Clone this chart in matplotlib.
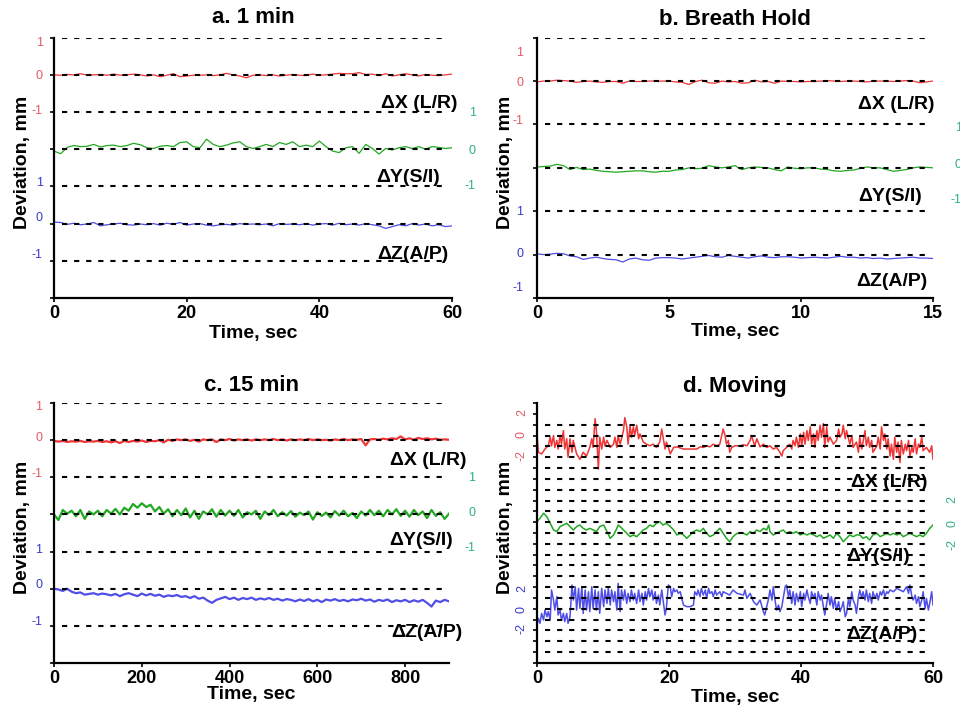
import numpy as np
import matplotlib
matplotlib.use('Agg')
import matplotlib.pyplot as plt
from matplotlib.transforms import blended_transform_factory

plt.rcParams['font.family'] = ['Liberation Sans', 'DejaVu Sans']

RED = '#f03535'
GREEN = '#22a822'
BLUE = '#4f4fe8'
RED_LBL = '#e25a66'
GREEN_LBL = '#2fb083'
BLUE_LBL = '#3a3ac8'

# ---- a. 1 min (1 s sampling), deviations in mm
a_red = [0.0, -0.01, 0.01, 0.0, 0.03, -0.01, 0.0, 0.01, -0.01, 0.02, -0.01, 0.0, 0.02, 0.0,
         -0.03, 0.0, -0.05, -0.01, 0.03, -0.05, -0.03, -0.01, -0.01, 0.0, -0.02, 0.0, 0.04,
         0.0, -0.03, -0.08, -0.01, 0.0, -0.02, 0.0, -0.03, -0.01, 0.01, -0.01, -0.02, 0.02,
         -0.01, 0.0, 0.02, 0.04, 0.03, 0.03, 0.06, 0.01, 0.02, -0.02, 0.03, -0.03, 0.0, 0.03,
         0.0, -0.03, 0.01, -0.01, -0.02, 0.0, 0.02]
a_green = [-0.05, -0.12, 0.05, 0.1, 0.07, 0.08, 0.13, 0.06, 0.1, 0.11, 0.07, 0.1, 0.16, 0.12,
           0.04, 0.02, 0.08, 0.1, 0.07, 0.18, 0.2, 0.07, 0.04, 0.27, 0.13, 0.07, 0.11, 0.17,
           0.2, 0.07, 0.02, 0.07, 0.13, 0.07, 0.18, 0.13, 0.2, 0.07, 0.11, 0.07, 0.22, 0.07,
           -0.05, -0.09, 0.04, 0.07, -0.11, 0.13, 0.02, -0.13, 0.02, -0.02, 0.04, 0.07, 0.02,
           0.07, 0.0, 0.07, 0.05, 0.02, 0.04]
a_blue = [0.04, 0.03, -0.02, 0.01, -0.03, -0.01, 0.03, -0.06, -0.03, -0.01, 0.01, -0.03, -0.04,
          -0.01, -0.03, 0.0, -0.04, 0.01, -0.02, 0.03, -0.04, -0.01, 0.0, -0.04, -0.06, -0.03,
          -0.02, -0.04, 0.0, -0.02, -0.01, -0.03, -0.01, -0.06, 0.0, -0.02, -0.01, -0.03, 0.0,
          -0.04, -0.01, 0.0, -0.04, 0.01, -0.03, -0.01, -0.04, 0.0, -0.03, -0.06, -0.13, -0.08,
          -0.03, -0.06, 0.0, -0.04, -0.01, -0.06, -0.03, -0.08, -0.06]

# ---- b. Breath Hold (0.25 s sampling)
b_red = [-0.02, 0.0, 0.0, 0.02, 0.01, 0.0, -0.03, -0.01, 0.0, -0.02, -0.03, -0.01, -0.01,
         -0.05, 0.0, -0.01, -0.01, 0.0, 0.0, 0.0, 0.0, -0.02, -0.03, -0.08, -0.01, 0.02, -0.04,
         -0.05, 0.0, -0.02, -0.01, -0.05, -0.04, 0.02, -0.02, -0.01, -0.05, 0.0, -0.01, -0.01,
         -0.02, -0.01, -0.01, 0.0, 0.01, 0.0, -0.01, 0.0, 0.0, -0.01, -0.02, 0.0, 0.0, 0.0,
         -0.01, 0.0, 0.01, 0.0, -0.04, -0.02, 0.0]
b_green = [0.02, 0.03, 0.04, 0.08, 0.05, -0.04, 0.01, -0.04, -0.03, -0.06, -0.08, -0.09, -0.1,
           -0.09, -0.08, -0.07, -0.07, -0.09, -0.1, -0.08, -0.08, -0.05, -0.04, 0.0, -0.02,
           -0.01, 0.05, 0.02, 0.0, 0.02, 0.05, -0.04, 0.0, 0.02, 0.01, 0.0, -0.04, -0.07, 0.02,
           -0.01, -0.02, 0.0, 0.0, -0.03, -0.04, -0.07, -0.08, -0.06, -0.05, -0.01, 0.02, 0.0,
           0.0, -0.04, -0.08, -0.06, -0.04, 0.0, 0.02, 0.01, 0.0]
b_blue = [0.02, 0.0, 0.01, 0.03, 0.02, -0.03, -0.05, -0.11, -0.08, -0.06, -0.09, -0.11, -0.12,
          -0.17, -0.1, -0.08, -0.12, -0.13, -0.08, -0.07, -0.07, -0.08, -0.1, -0.08, -0.06,
          -0.04, -0.02, -0.05, -0.06, -0.02, -0.04, -0.06, -0.08, -0.05, -0.03, -0.06, -0.07,
          -0.05, -0.05, -0.06, -0.08, -0.07, -0.06, -0.07, -0.08, -0.06, -0.04, -0.06, -0.06,
          -0.08, -0.07, -0.09, -0.08, -0.1, -0.09, -0.08, -0.07, -0.06, -0.08, -0.08, -0.09]

# ---- c. 15 min (10 s sampling)
c_red = [-0.02, -0.04, -0.02, -0.05, -0.03, -0.04, -0.02, -0.05, -0.03, -0.04, -0.02, -0.05,
         -0.03, -0.06, -0.03, -0.08, -0.02, -0.05, -0.02, -0.04, -0.01, -0.05, -0.02, -0.03,
         0.0, -0.06, 0.01, -0.02, 0.02, 0.0, 0.02, -0.02, 0.01, -0.04, 0.02, 0.0, 0.02, -0.05,
         0.02, 0.0, 0.03, -0.01, 0.02, 0.0, 0.02, -0.01, 0.02, 0.0, 0.02, 0.0, 0.03, 0.0, 0.02,
         -0.01, 0.02, 0.0, 0.02, 0.0, 0.03, 0.0, 0.02, 0.0, 0.01, -0.01, 0.02, 0.0, 0.03, 0.0,
         0.02, 0.01, 0.03, -0.14, 0.02, 0.03, 0.01, 0.04, 0.02, 0.05, 0.03, 0.1, 0.02, 0.05,
         0.01, 0.06, 0.03, 0.05, 0.02, 0.04, 0.01, 0.02, 0.01]
c_green = [0.0, -0.15, 0.12, 0.02, 0.1, -0.05, 0.12, -0.12, 0.08, 0.0, 0.1, -0.05, 0.12, 0.02,
           0.15, 0.0, 0.18, 0.1, 0.28, 0.18, 0.3, 0.2, 0.26, 0.08, 0.2, 0.02, 0.14, -0.05, 0.12,
           -0.02, 0.16, -0.08, 0.1, -0.12, 0.08, 0.0, 0.14, -0.06, 0.12, -0.03, 0.1, -0.04, 0.12,
           -0.08, 0.06, 0.0, 0.1, -0.12, 0.08, -0.02, 0.12, -0.05, 0.06, -0.03, 0.09, -0.06,
           0.05, -0.02, 0.08, -0.14, 0.06, -0.04, 0.05, -0.08, 0.09, -0.03, 0.1, -0.05, 0.04,
           -0.1, 0.08, -0.03, 0.12, -0.02, 0.1, -0.05, 0.12, 0.0, 0.14, -0.04, 0.1, -0.06, 0.12,
           -0.02, 0.08, -0.1, 0.12, -0.04, 0.06, -0.12, 0.02]
c_blue = [0.0, -0.02, -0.06, 0.0, -0.08, -0.12, -0.1, -0.16, -0.14, -0.12, -0.16, -0.13, -0.15,
          -0.18, -0.14, -0.2, -0.15, -0.12, -0.16, -0.2, -0.13, -0.18, -0.14, -0.19, -0.16,
          -0.22, -0.18, -0.2, -0.17, -0.22, -0.2, -0.25, -0.2, -0.27, -0.24, -0.32, -0.38, -0.3,
          -0.26, -0.22, -0.28, -0.24, -0.3, -0.25, -0.28, -0.24, -0.3, -0.26, -0.29, -0.25, -0.3,
          -0.27, -0.32, -0.28, -0.3, -0.34, -0.29, -0.33, -0.28, -0.34, -0.3, -0.36, -0.29,
          -0.32, -0.28, -0.33, -0.3, -0.34, -0.29, -0.31, -0.27, -0.32, -0.29, -0.35, -0.3,
          -0.33, -0.29, -0.36, -0.31, -0.34, -0.3, -0.36, -0.31, -0.35, -0.3, -0.38, -0.48,
          -0.32, -0.36, -0.3, -0.34]

# ---- d. Moving (irregular reading times, s)
d_red_t = [0, 0.2, 0.7, 1.2, 1.7, 2.0, 2.2, 2.5, 2.7, 3.0, 3.2, 3.5, 3.7, 4.0, 4.2, 4.5, 4.7,
           5.0, 5.3, 5.5, 6.0, 6.5, 7.0, 7.5, 8.0, 8.3, 8.5, 8.8, 9.0, 9.3, 9.5, 9.8, 10.1,
           10.3, 10.6, 11.1, 11.6, 11.8, 12.1, 12.3, 12.6, 13.1, 13.3, 13.6, 13.8, 14.1, 14.3,
           14.6, 14.8, 15.1, 15.4, 15.6, 16.1, 16.6, 17.1, 17.6, 18.1, 18.6, 18.9, 19.1, 19.4,
           19.6, 19.9, 20.2, 20.7, 21.2, 22.2, 23.2, 24.2, 24.7, 25.2, 25.7, 26.2, 26.7, 27.2,
           27.7, 28.2, 28.5, 28.7, 29.0, 29.2, 29.5, 30.0, 30.8,
           31.3, 31.8, 32.3, 32.5, 32.8, 33.0, 33.3, 33.8, 34.3, 34.8, 35.3, 35.8, 36.3, 36.8,
           37.1, 37.3, 37.8, 38.3, 38.6, 38.8, 39.1, 39.3, 39.6, 39.9, 40.1, 40.4, 40.6, 40.9,
           41.1, 41.4, 41.6, 41.9, 42.1, 42.4, 42.6, 42.9, 43.1, 43.4, 43.6, 43.9, 44.1, 44.4,
           44.9, 45.4, 45.7, 45.9, 46.2, 46.4, 46.7, 46.9, 47.4, 47.7, 47.9, 48.4, 48.7, 48.9,
           49.2, 49.4, 49.7, 49.9, 50.2, 50.4, 50.7, 50.9, 51.5, 51.7, 52.0, 52.2, 52.5, 52.7,
           53.0, 53.2, 53.5, 53.7, 54.0, 54.2, 54.5, 54.7, 55.0, 55.2, 55.5, 55.8, 56.0, 56.3,
           56.5, 56.8, 57.0, 57.3, 57.5, 57.8, 58.0, 58.3, 58.5, 59.0, 59.5, 59.8, 60.0]
d_red = [0.15, -1.55, -1.7, -1.25, -0.95, -0.15, -0.95, 0.0, -1.1, -0.45, -1.25, 0.0, -0.8,
         0.45, -1.25, -0.3, -2.0, -0.3, -1.55, -0.45, -1.7, -2.2, -1.55, -1.9, -1.1, -0.3,
         -1.1, 1.55, 0.45, -3.1, -0.15, -1.25, -0.15, -0.95, -0.45, -1.1, -0.8, -0.15, -1.1,
         0.0, -0.8, 0.45, 1.65, 0.8, -0.8, 0.95, -0.15, 0.8, 0.0, 0.95, -0.3, 0.15, -0.6, -0.8,
         -0.95, -0.8, -1.1, -0.6, 0.6, -0.15, -1.25, -0.6, -1.1, -1.7, -1.1, -1.05, -1.25,
         -1.25, -1.25, -1.05, -1.1, -0.95, -1.05, -0.8, -0.95, -0.8, 0.6, 0.0, -0.8, -0.45,
         -1.55, -1.1, -0.95, -0.95,
         -0.85, -0.95, -0.45, 0.0, -0.6, -0.95, -0.3, -1.05, -0.8, -1.1, -0.95, -1.25, -1.1,
         -1.55, -1.9, -1.4, -1.1, -0.8, -1.25, -0.45, -0.95, -0.15, -1.1, 0.15, -0.95, 0.3,
         -0.8, 0.45, -0.45, 0.8, -0.8, 0.15, -1.1, 0.45, -0.45, 0.95, -0.15, 1.1, -1.1, 0.8,
         -0.6, -0.15, -0.8, -0.45, 0.6, -0.15, 0.15, 0.95, -0.3, 0.45, -0.8, 0.0, -1.1, -0.6,
         -1.55, -0.15, -1.25, -0.6, 0.45, -0.95, -0.15, -1.1, -0.45, -1.55, -0.95, -0.15,
         -1.25, 0.8, -0.45, 0.15, -1.25, -0.3, -1.9, -0.8, -2.2, -0.15, -1.55, -0.6, -2.5,
         -0.45, -1.7, -0.8, -1.4, -0.45, -1.9, -1.1, -1.55, -0.3, -1.7, -0.8, -1.1, -0.15,
         -1.4, -1.1, -1.55, -0.95, -2.2]

d_green_t = [0, 0.45, 1.0, 1.5, 2.0, 2.5, 3.0, 3.5, 4.0, 4.5, 5.0, 5.5, 6.0, 6.5, 7.0, 7.5, 8.0,
             8.5, 9.0, 9.5, 10.1, 10.6, 11.1, 11.6, 12.1, 12.3, 12.6, 13.1, 13.6, 14.1, 14.6,
             15.1, 15.6, 16.1, 16.6, 17.1, 17.6, 18.1, 18.6, 19.1, 19.6, 20.2, 20.7, 21.2,
             21.7, 22.2, 22.7, 23.2, 23.7, 24.2, 24.7, 25.2, 25.7, 26.2, 26.7, 27.2, 27.7,
             28.2, 28.7, 29.2, 29.7, 30.3,
             31.3, 31.8, 32.3, 32.8, 33.3, 33.8, 34.3, 34.8, 35.1, 35.3, 35.8, 36.3, 36.8,
             37.3, 37.8, 38.3, 38.8, 39.3, 39.9, 40.4, 40.9, 41.4, 41.9, 42.4, 42.9, 43.4,
             43.9, 44.4, 44.9, 45.4, 45.9, 46.4, 46.9, 47.4, 47.9, 48.4, 48.9, 49.4, 49.9,
             50.4, 50.9, 51.5, 52.0, 52.5, 53.0, 53.5, 54.0, 54.5, 55.0, 55.5, 56.0, 56.5,
             57.0, 57.5, 58.0, 58.5, 59.0, 59.5, 60.0]
d_green = [0.05, 0.36, 0.82, 0.5, -0.1, -0.72, -0.87, -0.41, -0.26, -0.1, -0.41, -0.72, -0.41,
           -0.26, -0.57, -0.72, -0.57, -0.72, -0.87, -0.41, -0.26, -0.87, -1.49, -1.18, -0.57,
           -0.26, -0.41, -0.72, -1.03, -1.34, -1.18, -1.34, -1.03, -0.72, -0.57, -0.26, -0.41,
           -0.1, 0.05, -0.26, -0.1, -0.41, -0.72, -1.18, -1.03, -1.18, -1.49, -1.18, -0.87,
           -0.72, -0.87, -0.57, -1.03, -1.34, -1.18, -0.87, -0.57, -1.03, -1.49, -1.8, -1.34,
           -1.03,
           -1.03, -1.18, -0.87, -1.03, -0.72, -0.87, -0.57, -0.72, -0.26, -0.87, -1.18, -1.03,
           -0.87, -0.72, -1.03, -0.87, -1.03, -0.87, -1.18, -1.03, -1.18, -1.03, -1.18, -1.34,
           -1.18, -1.49, -1.34, -1.18, -1.49, -1.03, -1.34, -1.8, -1.49, -1.18, -1.34, -1.18,
           -1.18, -1.49, -1.34, -1.64, -1.18, -1.03, -1.34, -1.18, -1.03, -1.18, -1.03, -1.18,
           -1.03, -1.34, -1.18, -1.03, -1.18, -1.34, -1.18, -1.34, -1.03, -0.57, -0.26]

d_blue_t = [0.0, 0.2, 0.45, 0.7, 1.0, 1.2, 1.5, 1.7, 2.0, 2.2, 2.5, 2.7, 3.0, 3.2, 3.5, 3.7,
            4.0, 4.2, 4.5, 4.7, 5.0, 5.3, 5.5, 5.8, 6.0, 6.3, 6.5, 6.8, 7.0, 7.3, 7.5, 7.8,
            8.0, 8.3, 8.5, 8.8, 9.0, 9.3, 9.5, 9.8, 10.1, 10.3, 10.6, 10.8, 11.1, 11.3, 11.6,
            11.8, 12.1, 12.3, 12.6, 12.8, 13.1, 13.3, 13.6, 13.8, 14.1, 14.3, 14.6, 14.8,
            15.1, 15.4, 15.6, 15.9, 16.1, 16.4, 16.6, 16.9, 17.1, 17.4, 17.6, 17.9, 18.1,
            18.4, 18.6, 18.9, 19.1, 19.4, 19.6, 19.9, 20.2, 20.4, 20.7, 20.9, 21.2, 21.4,
            21.7, 22.0, 22.2, 22.7, 23.2, 23.7, 23.9, 24.2, 24.4, 24.7, 24.9, 25.2, 25.5,
            25.7, 26.0, 26.2, 26.5, 26.7, 27.0, 27.2, 27.7, 28.0, 28.2, 28.7, 29.2, 29.7, 30.3,
            31.3, 31.5, 31.8, 32.3, 32.8, 33.3, 33.8, 34.3, 34.5, 34.8, 35.1, 35.3, 35.6,
            35.8, 36.1, 36.3, 36.6, 36.8, 37.1, 37.3, 37.6, 37.8, 38.1, 38.3, 38.6, 38.8,
            39.1, 39.3, 39.6, 39.9, 40.1, 40.4, 40.6, 40.9, 41.1, 41.4, 41.6, 41.9, 42.1,
            42.4, 42.6, 42.9, 43.1, 43.4, 43.6, 43.9, 44.1, 44.4, 44.6, 44.9, 45.1, 45.4,
            45.7, 45.9, 46.2, 46.4, 46.7, 46.9, 47.2, 47.4, 47.7, 47.9, 48.2, 48.4, 48.7,
            48.9, 49.2, 49.4, 49.7, 49.9, 50.2, 50.4, 50.7, 50.9, 51.2, 51.5, 51.7, 52.0,
            52.2, 52.5, 52.7, 53.0, 53.2, 53.5, 54.0, 54.5, 55.0, 55.5, 56.0, 56.3, 56.5,
            56.8, 57.0, 57.3, 57.5, 57.8, 58.0, 58.3, 58.5, 58.8, 59.0, 59.3, 59.5, 59.8, 60.0]
d_blue = [-1.5, -0.88, -1.34, -0.42, -1.03, -0.11, -0.73, -0.26, -1.03, 1.74, 0.81, -0.11,
          1.12, -0.57, -0.11, -1.03, -0.42, -1.19, -0.42, -1.34, -0.73, 2.2, 0.81, 2.04,
          -0.11, 1.89, 0.04, 2.04, -0.42, 1.74, -0.11, 1.58, -0.26, 2.04, 0.04, 1.74, -0.11,
          1.58, -0.42, 1.89, 0.2, 1.74, 0.5, 1.89, 0.35, 1.74, 0.66, 1.58, -0.11, 2.35, -0.26,
          1.74, 0.81, 1.74, 0.5, 1.43, 0.66, 1.74, 0.81, 1.43, 0.5, 1.74, 0.66, 1.43, 0.35,
          1.58, 0.81, 1.89, 1.12, 1.74, 0.81, 1.58, 0.5, 1.27, 0.35, 1.74, 0.81, -0.57, 0.04,
          2.2, 2.04, 1.12, 1.89, 1.58, 1.74, 1.43, 1.58, 0.81, 0.35, 0.2, 0.2, 0.35, 1.58,
          1.27, 1.74, 1.12, 1.89, 1.27, 1.74, 0.97, 1.89, 1.43, 1.58, 1.12, 1.74, 1.27, 1.58,
          1.12, 1.58, 1.43, 1.27, 1.74, 1.43,
          1.27, 1.74, 0.97, 1.43, 0.66, 0.35, 0.81, -0.26, -0.57, 0.2, 0.97, 1.74, 0.81,
          2.04, 0.66, -0.11, 0.35, -0.26, 0.2, 0.97, 2.04, 2.2, 1.12, 1.74, 0.5, 1.58, 0.35,
          1.43, 0.66, 1.58, 0.2, 1.43, 0.81, 1.74, 1.12, 0.5, 1.58, 0.97, 1.43, 0.35, 1.58,
          0.81, 1.27, 0.2, -0.57, 0.5, 1.43, 0.35, 1.12, 0.04, 0.97, -0.11, 0.66, -0.26, 0.2,
          0.66, -0.73, -0.42, 0.97, 0.2, 1.58, 0.81, 0.35, -0.42, 1.12, 1.74, 0.97, 1.58,
          0.81, 1.74, 0.66, 1.43, 0.5, 1.58, 0.97, 1.43, 0.81, 1.58, 1.27, 1.74, 1.12, 1.58,
          1.43, 1.74, 1.58, 1.89, 1.74, 1.58, 2.04, 1.43, 2.2, 1.12, 0.81, 1.27, 0.5, 1.12,
          0.2, 0.81, 1.58, 0.04, 0.97, -0.11, 0.5, 1.58, 0.35]

fig = plt.figure(figsize=(9.6, 7.08), dpi=100)
fig.patch.set_facecolor('white')


def make_panel(rect, xmax, xticks, ytop, levels, title, title_y, xlabel_y):
    ax = fig.add_axes(rect)
    ax.set_xlim(0, xmax)
    ax.set_ylim(0, ytop)
    for side in ('top', 'right'):
        ax.spines[side].set_visible(False)
    for side in ('left', 'bottom'):
        ax.spines[side].set_linewidth(1.6)
    ax.set_xticks(xticks)
    ax.set_xticklabels([str(t) for t in xticks], fontsize=13, fontweight='bold')
    ax.set_yticks(np.arange(0, ytop + 1))
    ax.set_yticklabels([])
    ax.tick_params(axis='y', length=3, width=1.2)
    ax.tick_params(axis='x', length=3, width=1.2, pad=2)
    # dotted guide lines, one per unit
    for lvl in levels:
        ax.axhline(lvl, xmin=0.02, xmax=0.985, color='black', lw=1.5,
                   ls=(0, (2.5, 3.3)), zorder=3)
    ax.text(0.5, title_y, title, transform=ax.transAxes, ha='center', va='center',
            fontsize=16, fontweight='bold')
    ax.text(0.5, xlabel_y, 'Time, sec', transform=ax.transAxes, ha='center',
            va='center', fontsize=14, fontweight='bold')
    ax.text(-0.08, 0.52, 'Deviation, mm', transform=ax.transAxes, rotation=90,
            ha='center', va='center', fontsize=14, fontweight='bold')
    return ax


def axis_labels(ax, x, ys, texts, color, ha='right', rotation=0):
    tr = blended_transform_factory(ax.transAxes, ax.transData)
    for y, s in zip(ys, texts):
        ax.text(x, y, s, transform=tr, ha=ha, va='center', color=color,
                fontsize=9, rotation=rotation)


def series_labels(ax, xs, ys):
    tr = blended_transform_factory(ax.transAxes, ax.transData)
    for x, y, s in zip(xs, ys, ['ΔX (L/R)', 'ΔY(S/I)', 'ΔZ(A/P)']):
        ax.text(x, y, s, transform=tr, ha='right', va='center', fontsize=14,
                fontweight='bold', zorder=2)


def traces(ax, series, offsets, lw):
    for (t, v), off, c in zip(series, offsets, [RED, GREEN, BLUE]):
        ax.plot(t, np.asarray(v) + off, color=c, lw=lw, zorder=2)


# a. 1 min
ax = make_panel([0.05625, 0.5791, 0.41458, 0.3677], 60, [0, 20, 40, 60], 7,
                range(1, 8), 'a. 1 min', 1.077, -0.135)
ta = np.linspace(0, 60, len(a_red))
traces(ax, [(ta, a_red), (ta, a_green), (ta, a_blue)], [6, 4, 2], 0.9)
axis_labels(ax, -0.028, [6.85, 5.97, 5.03], ['1', '0', '-1'], RED_LBL)
axis_labels(ax, -0.028, [3.09, 2.15, 1.16], ['1', '0', '-1'], BLUE_LBL)
axis_labels(ax, 1.06, [4.97, 3.95, 3.01], ['1', '0', '-1'], GREEN_LBL)
series_labels(ax, [1.015, 0.97, 0.99], [5.24, 3.25, 1.16])

# b. Breath Hold
ax = make_panel([0.55938, 0.5791, 0.4125, 0.3677], 15, [0, 5, 10, 15], 6,
                range(1, 7), 'b. Breath Hold', 1.069, -0.13)
tb = np.linspace(0, 15, len(b_red))
traces(ax, [(tb, b_red), (tb, b_green), (tb, b_blue)], [5, 3, 1], 0.9)
axis_labels(ax, -0.035, [5.65, 4.95, 4.09], ['1', '0', '-1'], RED_LBL)
axis_labels(ax, -0.035, [1.98, 1.01, 0.23], ['1', '0', '-1'], BLUE_LBL)
axis_labels(ax, 1.073, [3.92, 3.07, 2.26], ['1', '0', '-1'], GREEN_LBL)
series_labels(ax, [1.005, 0.972, 0.987], [4.46, 2.33, 0.37])

# c. 15 min
ax = make_panel([0.05625, 0.06356, 0.41146, 0.36723], 900, [0, 200, 400, 600, 800], 7,
                range(1, 8), 'c. 15 min', 1.069, -0.123)
tc = np.linspace(0, 900, len(c_red))
traces(ax, [(tc, c_red), (tc, c_green), (tc, c_blue)], [6, 4, 2], 1.6)
axis_labels(ax, -0.03, [6.88, 6.05, 5.1], ['1', '0', '-1'], RED_LBL)
axis_labels(ax, -0.03, [3.04, 2.1, 1.1], ['1', '0', '-1'], BLUE_LBL)
axis_labels(ax, 1.066, [4.97, 4.03, 3.09], ['1', '0', '-1'], GREEN_LBL)
series_labels(ax, [1.045, 1.01, 1.033], [5.46, 3.3, 0.83])

# d. Moving
ax = make_panel([0.55938, 0.06356, 0.4125, 0.36723], 60, [0, 20, 40, 60], 24,
                range(1, 23), 'd. Moving', 1.062, -0.131)
traces(ax, [(d_red_t, d_red), (d_green_t, d_green), (d_blue_t, d_blue)], [21, 13, 5], 1.1)
axis_labels(ax, -0.038, [23.1, 21.05, 19.2], ['2', '0', '-2'], RED_LBL, ha='center', rotation=90)
axis_labels(ax, -0.038, [6.9, 4.9, 3.2], ['2', '0', '-2'], BLUE_LBL, ha='center', rotation=90)
axis_labels(ax, 1.048, [15.05, 12.9, 10.9], ['2', '0', '-2'], GREEN_LBL, ha='center', rotation=90)
series_labels(ax, [0.987, 0.942, 0.96], [16.7, 9.8, 2.6])

fig.savefig('out.png', dpi=100, facecolor='white')
